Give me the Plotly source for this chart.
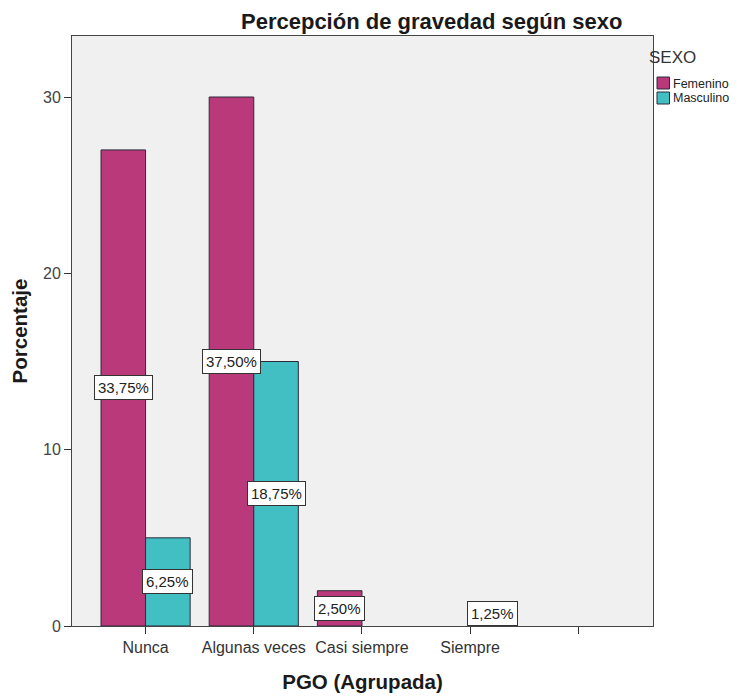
import plotly.graph_objects as go

# Data (counts; labels show share of total cases)
categories = ["Nunca", "Algunas veces", "Casi siempre", "Siempre", ""]
femenino = [27, 30, 2, 0]
masculino = [5, 15, 0, 1]
series_names = ["Femenino", "Masculino"]
legend_title = "SEXO"

_FEM = "#b9397a"
_MAS = "#41bfc3"
_EDGE = "#2b2b3a"
_BG = "#f0f0f0"
_FONT = "Arial, Liberation Sans, sans-serif"

# page body adds an 8px margin, so the figure is 8px smaller than the window
W, H = 734, 688
ML, MR, MT, MB = 64, 89, 28, 70
PW, PH = W - ML - MR, H - MT - MB
YMAX = 33.46
OFF = 8  # screen offset of the figure


def sx(px):  # screen x -> x domain fraction
    return (px - OFF - ML) / PW


def sy(px):  # screen y -> y domain fraction
    return 1 - (px - OFF - MT) / PH


total = sum(femenino) + sum(masculino)
xpos = list(range(len(categories)))
colors = [_FEM, _MAS]

fig = go.Figure()
for name, vals, col in zip(series_names, [femenino, masculino], colors):
    fig.add_trace(go.Bar(
        x=xpos[:len(vals)],
        y=vals,
        name=name,
        showlegend=False,
        marker=dict(color=col,
                    line=dict(color=_EDGE, width=[1 if v else 0 for v in vals])),
    ))

# percentage labels boxed on the bars
bw = 0.412
px_per_unit = PH / YMAX
for off, vals in [(-bw / 2, femenino), (bw / 2, masculino)]:
    for i, v in enumerate(vals):
        if v == 0:
            continue
        txt = f"{v / total * 100:.2f}%".replace(".", ",")
        low = v / 2 * px_per_unit < 14
        fig.add_annotation(
            x=xpos[i] + off, y=0 if low else v / 2,
            yanchor="bottom" if low else "middle",
            text=txt, showarrow=False,
            font=dict(family=_FONT, size=15, color="#222"),
            bgcolor="white", bordercolor="#333", borderwidth=1, borderpad=3,
        )

# title
fig.add_annotation(
    xref="x domain", yref="y domain",
    x=sx(431.5), y=sy(22), yanchor="middle",
    text="<b>Percepción de gravedad según sexo</b>",
    showarrow=False, font=dict(family=_FONT, size=22, color="#1a1a1a"),
)

# legend drawn by hand to match the compact SPSS layout
fig.add_annotation(
    xref="x domain", yref="y domain",
    x=sx(698), y=sy(57), yanchor="middle",
    text=legend_title, showarrow=False,
    font=dict(family=_FONT, size=17, color="#333"),
)
for k, (name, col) in enumerate(zip(series_names, colors)):
    top = 77 + k * 15
    fig.add_shape(
        type="rect", xref="x domain", yref="y domain",
        x0=sx(657), x1=sx(669.5), y0=sy(top), y1=sy(top + 12),
        fillcolor=col, line=dict(color=_EDGE, width=1),
    )
    fig.add_annotation(
        xref="x domain", yref="y domain",
        x=sx(672), y=sy(top + 6.5), xanchor="left", yanchor="middle",
        text=name, showarrow=False, borderpad=0,
        font=dict(family=_FONT, size=12.5, color="#222"),
    )

fig.update_layout(
    width=W, height=H,
    margin=dict(l=ML, r=MR, t=MT, b=MB, autoexpand=False),
    paper_bgcolor="white",
    plot_bgcolor=_BG,
    barmode="group",
    bargap=0.176,
    bargroupgap=0,
    showlegend=False,
    font=dict(family=_FONT, size=12, color="#333"),
    xaxis=dict(
        range=[-0.68, 4.69],
        tickvals=xpos, ticktext=categories,
        ticks="outside", ticklen=7, tickcolor="#333",
        showline=True, linecolor="#444", mirror=True,
        showgrid=False, zeroline=False, automargin=False,
        tickfont=dict(size=16, color="#333"),
        title=dict(text="<b>PGO (Agrupada)</b>", font=dict(size=20.5, color="#1a1a1a"), standoff=19),
    ),
    yaxis=dict(
        range=[0, YMAX],
        tickvals=[0, 10, 20, 30],
        ticks="outside", ticklen=7, tickcolor="#333",
        showline=True, linecolor="#444", mirror=True,
        showgrid=False, zeroline=False, automargin=False,
        tickfont=dict(size=16, color="#444"),
        title=dict(text="<b>Porcentaje</b>", font=dict(size=20.5, color="#1a1a1a"), standoff=13),
    ),
)

fig.write_html("out.html")
